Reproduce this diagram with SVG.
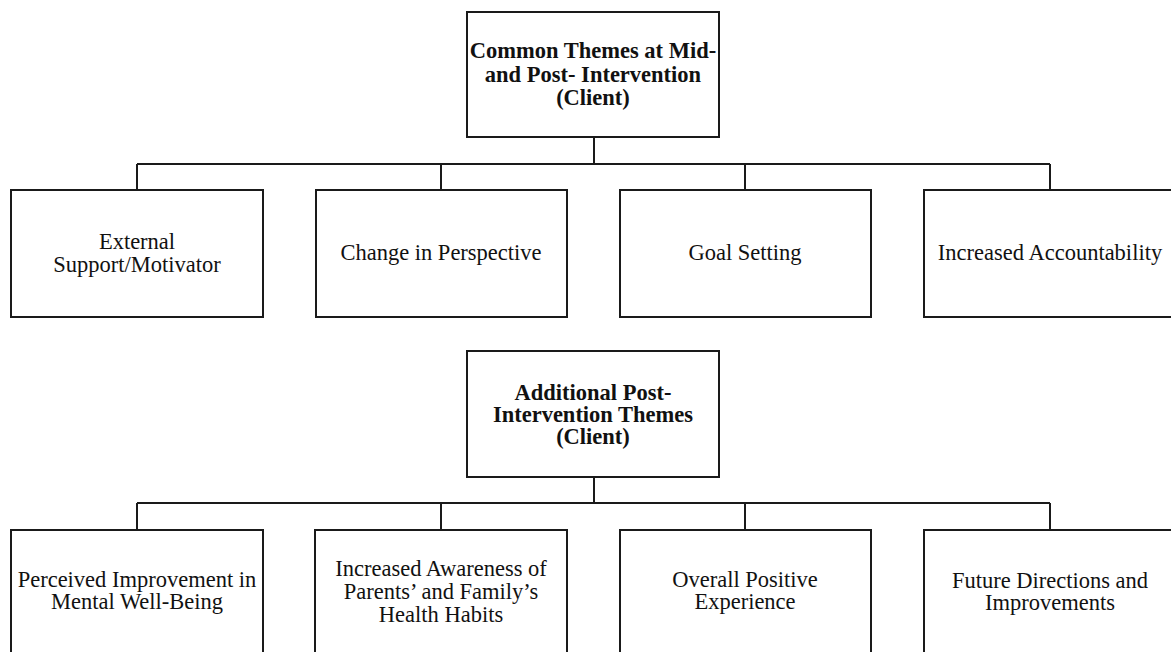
<svg xmlns="http://www.w3.org/2000/svg" width="1171" height="652" viewBox="0 0 1171 652">
<style>
.box{fill:#fff;stroke:#1a1a1a;stroke-width:2}
.con{fill:none;stroke:#1a1a1a;stroke-width:2}
.t{font-family:"Liberation Serif","Times New Roman",serif;font-size:22.5px;fill:#111;text-anchor:middle}
.b{font-weight:bold}
</style>
<rect width="1171" height="652" fill="#fff"/>
<g id="connectors">
<path class="con" d="M594 137V164M137 164H1050M137 164V190M441 164V190M745 164V190M1050 164V190"/>
<path class="con" d="M594 477V503M137 503H1050M137 503V530M441 503V530M745 503V530M1050 503V530"/>
</g>
<g id="head1">
<rect class="box" x="467" y="12" width="252" height="125"/>
<text class="t b" x="593" y="58">Common Themes at Mid-</text>
<text class="t b" x="593" y="82">and Post- Intervention</text>
<text class="t b" x="593" y="105">(Client)</text>
</g>
<g id="n1">
<rect class="box" x="11" y="190" width="252" height="127"/>
<text class="t" x="137" y="249">External</text>
<text class="t" x="137" y="272">Support/Motivator</text>
</g>
<g id="n2">
<rect class="box" x="316" y="190" width="251" height="127"/>
<text class="t" x="441" y="260">Change in Perspective</text>
</g>
<g id="n3">
<rect class="box" x="620" y="190" width="251" height="127"/>
<text class="t" x="745" y="260">Goal Setting</text>
</g>
<g id="n4">
<rect class="box" x="924" y="190" width="260" height="127"/>
<text class="t" x="1050" y="260">Increased Accountability</text>
</g>
<g id="head2">
<rect class="box" x="467" y="351" width="252" height="126"/>
<text class="t b" x="593" y="400">Additional Post-</text>
<text class="t b" x="593" y="422">Intervention Themes</text>
<text class="t b" x="593" y="444">(Client)</text>
</g>
<g id="m1">
<rect class="box" x="11" y="530" width="252" height="140"/>
<text class="t" x="137" y="587">Perceived Improvement in</text>
<text class="t" x="137" y="609">Mental Well-Being</text>
</g>
<g id="m2">
<rect class="box" x="315" y="530" width="252" height="140"/>
<text class="t" x="441" y="576">Increased Awareness of</text>
<text class="t" x="441" y="599">Parents’ and Family’s</text>
<text class="t" x="441" y="622">Health Habits</text>
</g>
<g id="m3">
<rect class="box" x="620" y="530" width="251" height="140"/>
<text class="t" x="745" y="587">Overall Positive</text>
<text class="t" x="745" y="609">Experience</text>
</g>
<g id="m4">
<rect class="box" x="924" y="530" width="260" height="140"/>
<text class="t" x="1050" y="588">Future Directions and</text>
<text class="t" x="1050" y="610">Improvements</text>
</g>
</svg>
